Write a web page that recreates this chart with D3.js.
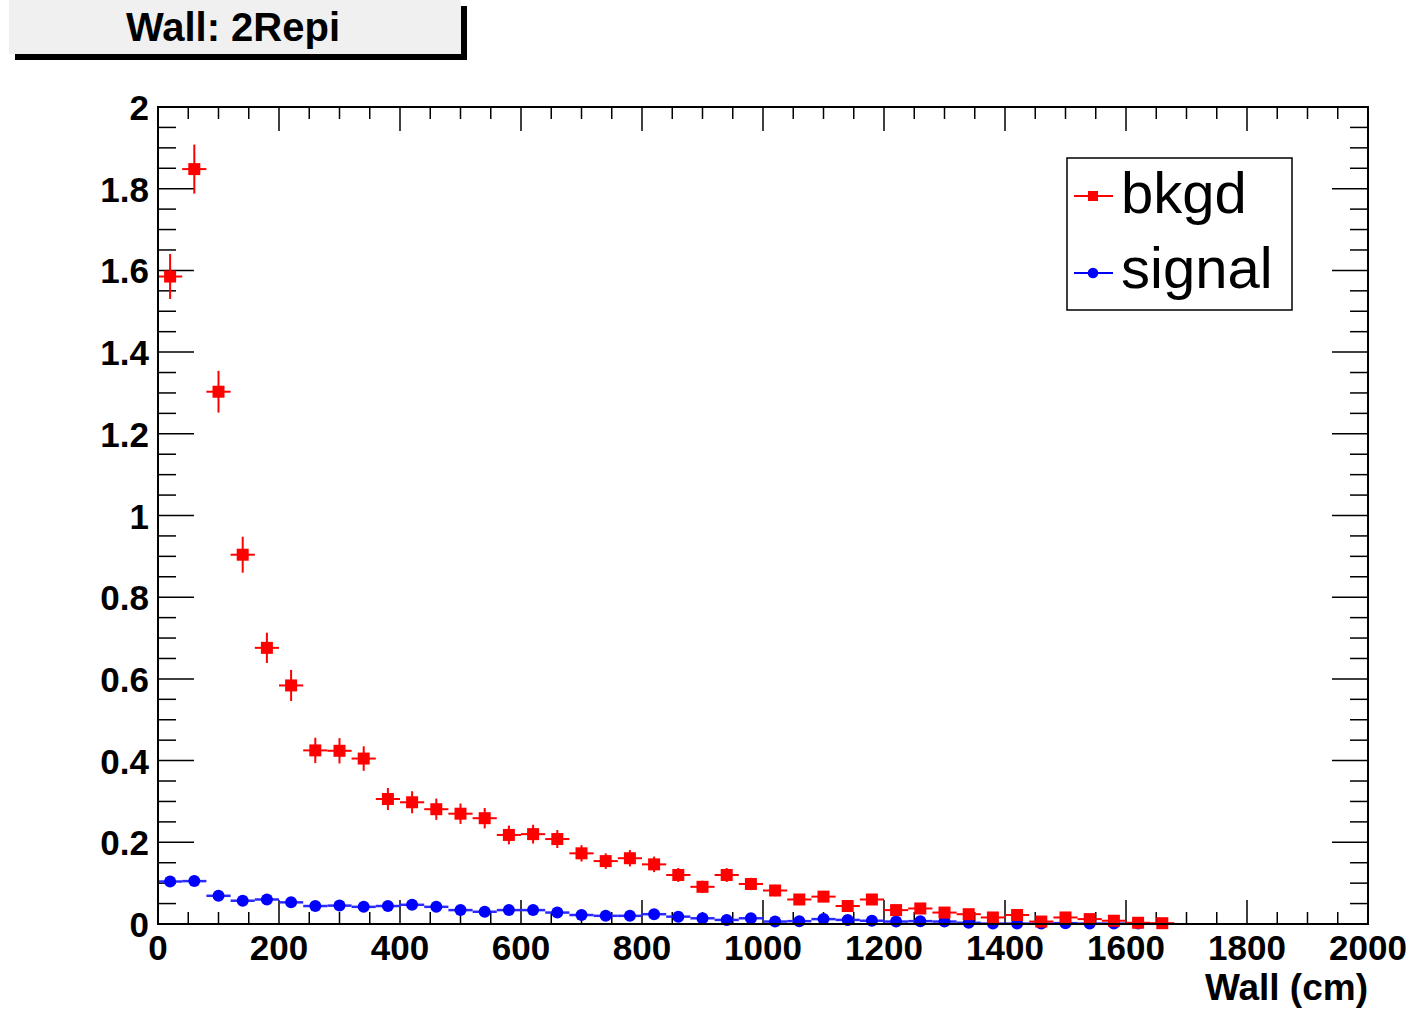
<!DOCTYPE html>
<html><head><meta charset="utf-8">
<script src="https://cdn.jsdelivr.net/npm/d3@7"></script>
<style>html,body{margin:0;padding:0;background:#fff;}svg{display:block;}</style>
</head><body>
<script>
// ---- data ----
const binCenters = [20,60,100,140,180,220,260,300,340,380,420,460,500,540,580,620,660,700,740,780,820,860,900,940,980,1020,1060,1100,1140,1180,1220,1260,1300,1340,1380,1420,1460,1500,1540,1580,1620,1660];
const bkgdValues = [1.585,1.848,1.303,0.904,0.676,0.584,0.425,0.424,0.405,0.306,0.298,0.281,0.270,0.259,0.218,0.220,0.208,0.173,0.154,0.161,0.146,0.120,0.091,0.120,0.098,0.082,0.060,0.067,0.044,0.060,0.034,0.038,0.028,0.024,0.016,0.022,0.006,0.016,0.012,0.008,0.003,0.002];
const bkgdErrors = [0.055,0.060,0.051,0.044,0.037,0.038,0.031,0.031,0.030,0.027,0.027,0.026,0.025,0.025,0.023,0.023,0.022,0.020,0.019,0.020,0.019,0.017,0.015,0.017,0.015,0.014,0.012,0.013,0.011,0.012,0.009,0.010,0.008,0.008,0.007,0.008,0.004,0.007,0.006,0.005,0.003,0.002];
const signalCenters = [20,60,100,140,180,220,260,300,340,380,420,460,500,540,580,620,660,700,740,780,820,860,900,940,980,1020,1060,1100,1140,1180,1220,1260,1300,1340,1380,1420,1460,1500,1540,1580,1620];
const signalValues = [0.104,0.105,0.069,0.057,0.060,0.053,0.044,0.045,0.042,0.044,0.047,0.042,0.034,0.030,0.034,0.034,0.028,0.022,0.020,0.020,0.024,0.018,0.014,0.010,0.014,0.006,0.007,0.012,0.010,0.008,0.006,0.007,0.006,0.003,0.001,0.001,0.001,0.002,0.001,0.001,0.001];
const binHalfWidth = 20;
const xTickValues = [0,200,400,600,800,1000,1200,1400,1600,1800,2000];
const yTickValues = [0,0.2,0.4,0.6,0.8,1,1.2,1.4,1.6,1.8,2];
const yTickLabels = ["0","0.2","0.4","0.6","0.8","1","1.2","1.4","1.6","1.8","2"];
const legendLabels = ["bkgd","signal"];
const titleText = "Wall: 2Repi";
const xTitle = "Wall (cm)";

// ---- drawing ----
const W = 1416, H = 1011;
const svg = d3.select("body").append("svg").attr("width", W).attr("height", H);
const x = d3.scaleLinear().domain([0,2000]).range([158,1368]);
const y = d3.scaleLinear().domain([0,2]).range([924,107]);
const FONT = "'Liberation Sans', Arial, Helvetica, sans-serif";

// title box with shadow
svg.append("rect").attr("x",15).attr("y",6).attr("width",452).attr("height",54).attr("fill","#000");
svg.append("rect").attr("x",9).attr("y",0).attr("width",452).attr("height",54).attr("fill","#f0f0f0");
svg.append("text").attr("x",233).attr("y",41).attr("text-anchor","middle")
  .attr("font-family",FONT).attr("font-weight","bold").attr("font-size",40).attr("fill","#000").text(titleText);

// ticks
const g = svg.append("g").attr("stroke","#000").attr("stroke-width",1.5);
const xMinor = d3.range(0,2001,50);
xMinor.forEach(v => {
  const major = v % 200 === 0;
  const len = major ? 24 : 12;
  g.append("line").attr("x1",x(v)).attr("x2",x(v)).attr("y1",y(0)).attr("y2",y(0)-len);
  g.append("line").attr("x1",x(v)).attr("x2",x(v)).attr("y1",y(2)).attr("y2",y(2)+len);
});
const yMinor = d3.range(0,41).map(i => i*0.05);
yMinor.forEach((v,i) => {
  const major = i % 4 === 0;
  const len = major ? 36 : 18;
  g.append("line").attr("x1",x(0)).attr("x2",x(0)+len).attr("y1",y(v)).attr("y2",y(v));
  g.append("line").attr("x1",x(2000)).attr("x2",x(2000)-len).attr("y1",y(v)).attr("y2",y(v));
});

// data: signal
const sig = svg.append("g");
signalCenters.forEach((c,i) => {
  sig.append("line").attr("x1",x(c-binHalfWidth)).attr("x2",x(c+binHalfWidth))
    .attr("y1",y(signalValues[i])).attr("y2",y(signalValues[i])).attr("stroke","#2a2aff").attr("stroke-width",2.5);
});
sig.selectAll("circle").data(signalCenters).join("circle")
  .attr("cx",d=>x(d)).attr("cy",(d,i)=>y(signalValues[i])).attr("r",6).attr("fill","#0000ff");

// data: bkgd
const bk = svg.append("g");
binCenters.forEach((c,i) => {
  const v = bkgdValues[i], e = bkgdErrors[i];
  bk.append("line").attr("x1",x(c-binHalfWidth)).attr("x2",x(c+binHalfWidth))
    .attr("y1",y(v)).attr("y2",y(v)).attr("stroke","#ff0000").attr("stroke-width",2);
  bk.append("line").attr("x1",x(c)).attr("x2",x(c))
    .attr("y1",Math.min(y(v-e), y(0))).attr("y2",y(v+e)).attr("stroke","#ff0000").attr("stroke-width",2);
});
bk.selectAll("rect").data(binCenters).join("rect")
  .attr("x",d=>x(d)-6).attr("y",(d,i)=>y(bkgdValues[i])-6).attr("width",12).attr("height",12).attr("fill","#ff0000");

// frame
svg.append("rect").attr("x",x(0)).attr("y",y(2)).attr("width",x(2000)-x(0)).attr("height",y(0)-y(2))
  .attr("fill","none").attr("stroke","#000").attr("stroke-width",2);

// tick labels
const labels = svg.append("g").attr("font-family",FONT).attr("font-weight","bold").attr("font-size",35).attr("fill","#000");
yTickValues.forEach((v,i) => {
  labels.append("text").attr("x",149).attr("y",y(v)+13).attr("text-anchor","end").text(yTickLabels[i]);
});
xTickValues.forEach(v => {
  labels.append("text").attr("x",x(v)).attr("y",960).attr("text-anchor","middle").text(String(v));
});
labels.append("text").attr("x",1368).attr("y",1000).attr("text-anchor","end").attr("font-size",37).text(xTitle);

// legend
const lg = svg.append("g");
lg.append("rect").attr("x",1067).attr("y",158).attr("width",225).attr("height",152)
  .attr("fill","#fff").attr("stroke","#000").attr("stroke-width",1.5);
const legY = [196,273];
const legColors = ["#ff0000","#0000ff"];
legendLabels.forEach((t,i) => {
  lg.append("line").attr("x1",1074).attr("x2",1113).attr("y1",legY[i]).attr("y2",legY[i]).attr("stroke",legColors[i]).attr("stroke-width",2);
  if (i===0) lg.append("rect").attr("x",1088).attr("y",legY[i]-5).attr("width",10).attr("height",10).attr("fill",legColors[i]);
  else lg.append("circle").attr("cx",1093).attr("cy",legY[i]).attr("r",5.3).attr("fill",legColors[i]);
  lg.append("text").attr("x",1121).attr("y",legY[i]+ (i===0?17:15)).attr("font-family",FONT).attr("font-size",58).attr("fill","#000").text(t);
});
</script>
</body></html>
